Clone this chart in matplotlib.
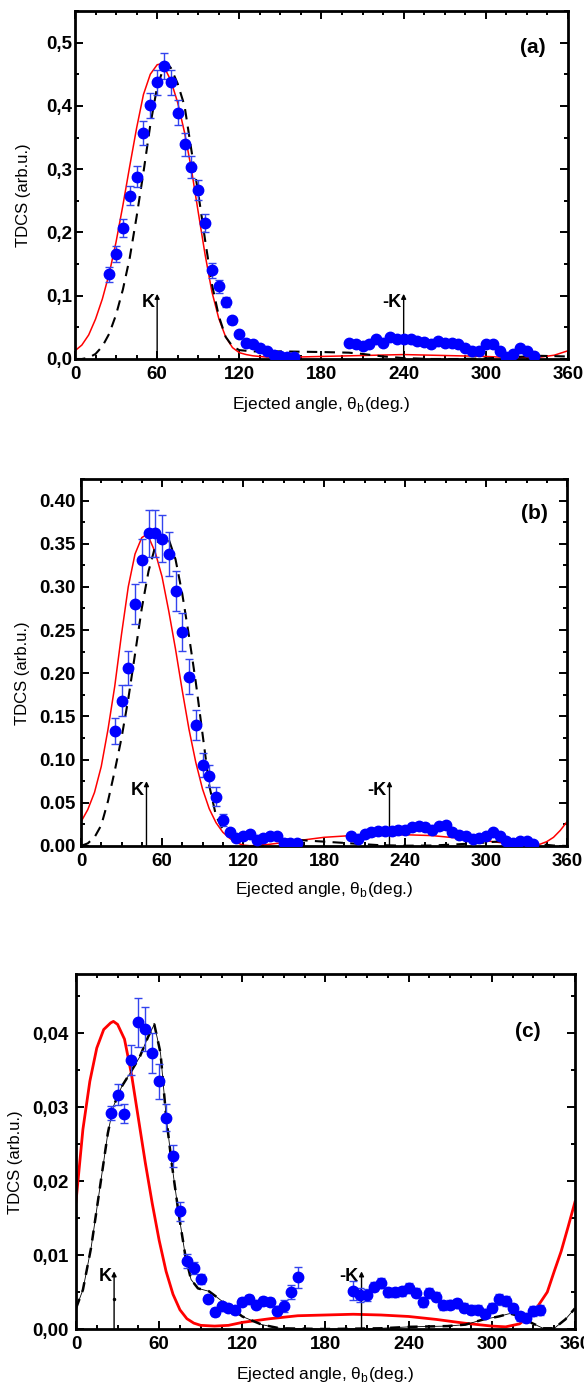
import numpy as np
import matplotlib
matplotlib.use("Agg")
import matplotlib.pyplot as plt
from matplotlib.ticker import MultipleLocator, FuncFormatter

plt.rcParams['font.family'] = ['Liberation Sans', 'DejaVu Sans']
plt.rcParams['mathtext.fontset'] = 'custom'
plt.rcParams['mathtext.rm'] = 'Liberation Sans'

# ---------------- panel (a) ----------------
a_theta = [25, 30, 35, 40, 45, 50, 55, 60, 65, 70, 75, 80, 85, 90, 95, 100, 105, 110,
           115, 120, 125, 130, 135, 140, 145, 150, 155, 160,
           200, 205, 210, 215, 220, 225, 230, 235, 240, 245, 250, 255, 260, 265,
           270, 275, 280, 285, 290, 295, 300, 305, 310, 315, 320, 325, 330, 335]
a_tdcs = [0.134, 0.166, 0.207, 0.258, 0.288, 0.357, 0.401, 0.437, 0.463, 0.437, 0.389,
          0.339, 0.303, 0.267, 0.215, 0.140, 0.115, 0.090, 0.061, 0.040, 0.025, 0.023,
          0.018, 0.013, 0.007, 0.005, 0.003, 0.003,
          0.025, 0.023, 0.021, 0.024, 0.031, 0.026, 0.034, 0.032, 0.031, 0.031, 0.028,
          0.027, 0.023, 0.029, 0.025, 0.025, 0.024, 0.017, 0.012, 0.012, 0.023, 0.024,
          0.012, 0.003, 0.008, 0.017, 0.012, 0.004]
a_err = [0.012, 0.013, 0.014, 0.015, 0.017, 0.019, 0.020, 0.020, 0.020, 0.020, 0.020,
         0.018, 0.017, 0.016, 0.014, 0.012, 0.010, 0.008, 0.006, 0.003, 0.003, 0.003,
         0.003, 0.002, 0.002, 0.002, 0.002, 0.002,
         0.002, 0.002, 0.002, 0.002, 0.002, 0.002, 0.002, 0.002, 0.002, 0.002, 0.002,
         0.002, 0.002, 0.002, 0.002, 0.002, 0.002, 0.002, 0.002, 0.002, 0.002, 0.002,
         0.002, 0.002, 0.002, 0.002, 0.002, 0.002]
a_red_theta = [0, 5, 10, 15, 20, 25, 30, 35, 40, 45, 50, 55, 60, 62, 65, 70, 75, 80, 85,
               90, 95, 100, 105, 110, 115, 120, 125, 130, 140, 160, 180, 200, 220, 240,
               260, 280, 300, 320, 330, 340, 350, 360]
a_red = [0.013, 0.022, 0.038, 0.063, 0.095, 0.135, 0.185, 0.243, 0.305, 0.365, 0.418,
         0.450, 0.465, 0.466, 0.462, 0.440, 0.405, 0.358, 0.300, 0.232, 0.165, 0.106,
         0.064, 0.035, 0.018, 0.010, 0.007, 0.005, 0.003, 0.003, 0.004, 0.005, 0.006,
         0.007, 0.006, 0.005, 0.004, 0.002, 0.002, 0.003, 0.006, 0.013]
a_dash_theta = [0, 5, 10, 15, 20, 25, 30, 35, 40, 45, 50, 55, 60, 65, 68, 70, 75, 80, 85,
                90, 95, 100, 105, 110, 115, 120, 130, 150, 180, 200, 210, 225, 240, 260,
                280, 300, 320, 340, 360]
a_dash = [0.0, 0.0, 0.002, 0.008, 0.020, 0.040, 0.070, 0.110, 0.160, 0.225, 0.295, 0.370,
          0.430, 0.462, 0.465, 0.460, 0.435, 0.400, 0.330, 0.262, 0.188, 0.118, 0.068,
          0.035, 0.020, 0.014, 0.012, 0.012, 0.011, 0.010, 0.008, 0.004, 0.0015, 0.0,
          0.0, 0.001, 0.003, 0.005, 0.004]

# ---------------- panel (b) ----------------
b_theta = a_theta
b_tdcs = [0.133, 0.168, 0.206, 0.280, 0.331, 0.362, 0.362, 0.356, 0.338, 0.295, 0.248,
          0.196, 0.140, 0.094, 0.081, 0.057, 0.030, 0.016, 0.009, 0.012, 0.014, 0.007,
          0.009, 0.012, 0.012, 0.004, 0.003, 0.003,
          0.012, 0.008, 0.014, 0.016, 0.017, 0.017, 0.017, 0.018, 0.019, 0.022, 0.023,
          0.022, 0.018, 0.023, 0.024, 0.016, 0.013, 0.011, 0.008, 0.009, 0.012, 0.016,
          0.011, 0.006, 0.004, 0.006, 0.006, 0.002]
b_err = [0.015, 0.018, 0.020, 0.023, 0.025, 0.027, 0.027, 0.027, 0.025, 0.023, 0.022,
         0.020, 0.017, 0.014, 0.013, 0.011, 0.007, 0.004, 0.003, 0.003, 0.003, 0.003,
         0.003, 0.003, 0.003, 0.003, 0.003, 0.003,
         0.003, 0.003, 0.003, 0.004, 0.004, 0.004, 0.004, 0.004, 0.004, 0.004, 0.004,
         0.004, 0.004, 0.004, 0.004, 0.004, 0.003, 0.003, 0.003, 0.003, 0.003, 0.003,
         0.003, 0.003, 0.003, 0.003, 0.003, 0.003]
b_red_theta = [0, 5, 10, 15, 20, 25, 30, 35, 40, 45, 48, 50, 55, 60, 65, 70, 75, 80, 85,
               90, 95, 100, 105, 110, 115, 120, 125, 130, 140, 150, 160, 180, 200, 220,
               240, 260, 280, 300, 310, 320, 330, 335, 340, 345, 350, 355, 360]
b_red = [0.028, 0.042, 0.062, 0.092, 0.135, 0.185, 0.245, 0.300, 0.338, 0.357, 0.360,
         0.358, 0.340, 0.312, 0.272, 0.228, 0.180, 0.135, 0.097, 0.066, 0.043, 0.027,
         0.016, 0.009, 0.004, 0.001, 0.0003, 0.0005, 0.002, 0.004, 0.006, 0.010, 0.012,
         0.013, 0.013, 0.012, 0.009, 0.006, 0.004, 0.002, 0.001, 0.001, 0.002, 0.005,
         0.010, 0.018, 0.028]
b_dash_theta = [0, 5, 10, 15, 20, 25, 30, 35, 40, 45, 50, 55, 60, 65, 70, 75, 80, 85, 90,
                95, 100, 105, 110, 115, 120, 140, 160, 180, 200, 220, 240, 260, 280, 300,
                315, 330, 340, 350, 360]
b_dash = [0.0, 0.003, 0.010, 0.024, 0.052, 0.087, 0.125, 0.170, 0.222, 0.275, 0.318,
          0.347, 0.360, 0.355, 0.332, 0.292, 0.243, 0.190, 0.130, 0.070, 0.035, 0.019,
          0.013, 0.011, 0.010, 0.008, 0.007, 0.005, 0.003, 0.001, 0.0003, 0.0005, 0.002,
          0.004, 0.006, 0.004, 0.002, 0.0005, 0.0]

# ---------------- panel (c) ----------------
c_theta = a_theta
c_tdcs = [0.0292, 0.0317, 0.0291, 0.0364, 0.0415, 0.0406, 0.0373, 0.0335, 0.0286, 0.0234,
          0.0159, 0.0092, 0.0083, 0.0068, 0.0041, 0.0023, 0.0031, 0.0029, 0.0026, 0.0037,
          0.0041, 0.0033, 0.0038, 0.0037, 0.0025, 0.0031, 0.0050, 0.0070,
          0.0052, 0.0046, 0.0046, 0.0057, 0.0062, 0.0050, 0.0050, 0.0051, 0.0056, 0.0049,
          0.0036, 0.0049, 0.0044, 0.0032, 0.0033, 0.0035, 0.0029, 0.0026, 0.0026, 0.0021,
          0.0029, 0.0040, 0.0038, 0.0028, 0.0017, 0.0015, 0.0024, 0.0026]
c_err = [0.0010, 0.0014, 0.0013, 0.0020, 0.0033, 0.0030, 0.0027, 0.0024, 0.0018, 0.0015,
         0.0013, 0.0009, 0.0008, 0.0007, 0.0005, 0.0005, 0.0005, 0.0005, 0.0005, 0.0005,
         0.0005, 0.0005, 0.0005, 0.0005, 0.0006, 0.0008, 0.0010, 0.0014,
         0.0013, 0.0010, 0.0008, 0.0006, 0.0007, 0.0006, 0.0006, 0.0006, 0.0006, 0.0006,
         0.0006, 0.0006, 0.0006, 0.0006, 0.0006, 0.0006, 0.0006, 0.0006, 0.0006, 0.0006,
         0.0006, 0.0007, 0.0007, 0.0006, 0.0006, 0.0006, 0.0007, 0.0007]
c_red_theta = [0, 5, 10, 15, 20, 25, 27, 30, 35, 40, 45, 50, 55, 60, 65, 70, 75, 80, 85,
               90, 100, 110, 120, 140, 160, 180, 200, 220, 240, 260, 280, 300, 310, 320,
               330, 340, 345, 350, 355, 360]
c_red = [0.0172, 0.0270, 0.0335, 0.0380, 0.0405, 0.0414, 0.0416, 0.0412, 0.0392, 0.0345,
         0.0285, 0.0225, 0.0170, 0.0120, 0.0078, 0.0047, 0.0026, 0.0014, 0.0008, 0.0005,
         0.0004, 0.0005, 0.0009, 0.0014, 0.0018, 0.0019, 0.0020, 0.0019, 0.0017, 0.0013,
         0.0008, 0.0004, 0.0003, 0.0007, 0.0022, 0.0050, 0.0078, 0.0105, 0.0138, 0.0172]
c_dd_theta = [0, 5, 11, 17, 23, 27, 33, 39, 46, 52, 56.5, 61, 65, 69, 74, 79, 83, 88, 96,
              101, 110, 120, 134, 147, 180, 220, 241, 268, 281, 294, 305, 313, 321, 329,
              337, 345, 353, 360]
c_dd = [0.0028, 0.0053, 0.0111, 0.0188, 0.0265, 0.0301, 0.0328, 0.0346, 0.0368, 0.0395,
        0.0412, 0.0373, 0.0288, 0.0225, 0.0157, 0.0098, 0.0067, 0.0055, 0.0051, 0.0044,
        0.0031, 0.0017, 0.0006, 0.0001, 0.0, 0.0001, 0.0003, 0.0004, 0.0006, 0.0013,
        0.0017, 0.0021, 0.0017, 0.0008, 0.0001, 0.0001, 0.0013, 0.0028]

# arrows: (label, angle, arrow top, text height)
a_arrows = [('K', 60, 0.103, 0.090), ('-K', 240, 0.103, 0.090)]
b_arrows = [('K', 48.5, 0.075, 0.064), ('-K', 228.5, 0.075, 0.064)]
c_arrows = [('K', 27.5, 0.0078, 0.0071), ('-K', 206, 0.0078, 0.0071)]


def style_axes(ax, ymax, ymaj, ymin, fmt, comma, ypad):
    ax.set_xlim(0, 360)
    ax.set_ylim(0, ymax)
    ax.xaxis.set_major_locator(MultipleLocator(60))
    ax.xaxis.set_minor_locator(MultipleLocator(15))
    ax.yaxis.set_major_locator(MultipleLocator(ymaj))
    ax.yaxis.set_minor_locator(MultipleLocator(ymin))

    def f(v, _):
        s = fmt.format(v)
        return s.replace('.', ',') if comma else s
    ax.yaxis.set_major_formatter(FuncFormatter(f))
    ax.tick_params(which='both', direction='in', top=True, right=True, width=1.4)
    ax.tick_params(which='major', length=6)
    ax.tick_params(which='minor', length=3)
    ax.tick_params(axis='x', pad=5)
    ax.tick_params(axis='y', pad=ypad)
    for lab in ax.get_xticklabels() + ax.get_yticklabels():
        lab.set_fontweight('bold')
        lab.set_fontsize(13.5)
    for s in ax.spines.values():
        s.set_linewidth(2)


def draw_arrows(ax, arrows):
    for txt, x, top, ty in arrows:
        ax.annotate('', xy=(x, top), xytext=(x, 0),
                    arrowprops=dict(arrowstyle='-|>', color='black', lw=1,
                                    mutation_scale=7, shrinkA=0, shrinkB=0))
        ax.annotate(txt, xy=(x, ty), xytext=(-2, 0), textcoords='offset points',
                    ha='right', va='center', fontsize=13, fontweight='bold')


def draw_points(ax, x, y, e):
    ax.errorbar(x, y, yerr=e, fmt='o', color='blue', ecolor='#3344ee', elinewidth=1,
                capsize=3, capthick=1, ms=7.5, zorder=4)


xlab = r'Ejected angle, θ$_\mathregular{b}$(deg.)'

fig = plt.figure(figsize=(5.84, 13.85), dpi=100)

# (a)
ax = fig.add_axes([0.1284, 0.7408, 0.8442, 0.2513])
ax.plot(a_red_theta, a_red, color='red', lw=1.1, zorder=2)
ax.plot(a_dash_theta, a_dash, color='black', lw=1.5, ls=(0, (5, 3.5)), zorder=2)
draw_points(ax, a_theta, a_tdcs, a_err)
style_axes(ax, 0.55, 0.1, 0.05, '{:.1f}', True, 2)
draw_arrows(ax, a_arrows)
ax.text(334, 0.492, '(a)', fontsize=15, fontweight='bold', ha='center', va='center')
ax.set_xlabel(xlab, fontsize=12.5)
ax.set_ylabel('TDCS (arb.u.)', fontsize=12)
ax.xaxis.set_label_coords(0.5, -0.104)
ax.yaxis.set_label_coords(-0.09, 0.47)

# (b)
ax = fig.add_axes([0.1387, 0.3892, 0.8322, 0.2650])
ax.plot(b_red_theta, b_red, color='red', lw=1.1, zorder=2)
ax.plot(b_dash_theta, b_dash, color='black', lw=1.5, ls=(0, (5, 3.5)), zorder=2)
draw_points(ax, b_theta, b_tdcs, b_err)
style_axes(ax, 0.425, 0.05, 0.025, '{:.2f}', False, 4)
draw_arrows(ax, b_arrows)
ax.text(336, 0.3845, '(b)', fontsize=15, fontweight='bold', ha='center', va='center')
ax.set_xlabel(xlab, fontsize=12.5)
ax.set_ylabel('TDCS (arb.u.)', fontsize=12)
ax.xaxis.set_label_coords(0.5, -0.094)
ax.yaxis.set_label_coords(-0.105, 0.47)

# (c)
ax = fig.add_axes([0.1301, 0.0404, 0.8545, 0.2563])
ax.plot(c_red_theta, c_red, color='red', lw=2, zorder=2)
ax.plot(c_dd_theta, c_dd, color='black', lw=0.6, zorder=2)
ax.plot(c_dd_theta, c_dd, color='black', lw=1.8, ls=(0, (4, 3)), zorder=2)
draw_points(ax, c_theta, c_tdcs, c_err)
style_axes(ax, 0.048, 0.01, 0.005, '{:.2f}', True, 5)
draw_arrows(ax, c_arrows)
ax.plot([27.5], [0.004], marker='.', color='black', ms=3)
ax.text(326, 0.0403, '(c)', fontsize=15, fontweight='bold', ha='center', va='center')
ax.set_xlabel(xlab, fontsize=12.5)
ax.set_ylabel('TDCS (arb.u.)', fontsize=12)
ax.xaxis.set_label_coords(0.5, -0.102)
ax.yaxis.set_label_coords(-0.106, 0.47)

fig.savefig('out.png', dpi=100)
